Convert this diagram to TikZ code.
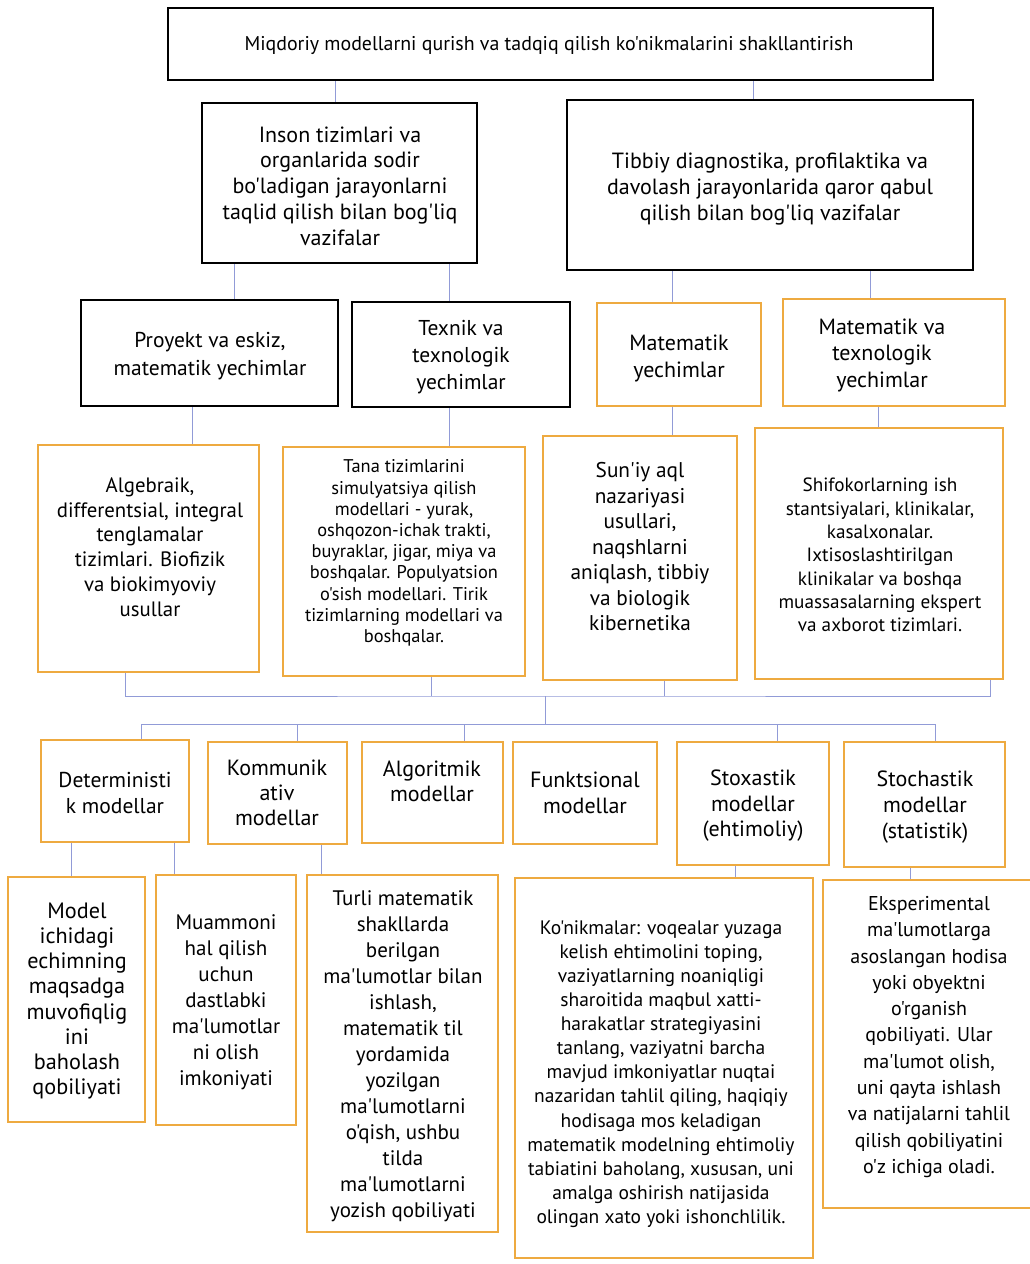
\documentclass[tikz,border=0pt]{standalone}
\usepackage{fontspec}
\setmainfont{PT Sans}
\newfontfamily\wid{PT Sans}
\definecolor{orng}{RGB}{238,170,64}
\definecolor{conn}{RGB}{145,155,215}
\newcommand\bx[6]{\node[#6, minimum width={#4-#2}, minimum height={#5-#3}] (#1) at ({(#2+#4)/2},{(#3+#5)/2}) {};}
\newcommand\tx[5]{\node[txt, font={#4}] (#1-t) at (#2,#3) {#5};}
\begin{document}
\begin{tikzpicture}[x=1pt,y=-1pt,
  bbox/.style={draw=black, line width=2.8pt, inner sep=0pt},
  obox/.style={draw=orng, line width=2.3pt, inner sep=0pt},
  txt/.style={align=center, inner sep=0pt, text=black},
  link/.style={draw=conn, line width=1pt}]
\fill[white] (0,0) rectangle (1030,1264);
\useasboundingbox (0,0) rectangle (1030,1264);
% boxes
\bx{top}{168}{8}{933}{80}{bbox}
\bx{inson}{202}{103}{477}{263}{bbox}
\bx{tibb}{567}{100}{973}{270}{bbox}
\bx{proy}{81}{300}{338}{406}{bbox}
\bx{texn}{352}{302}{570}{407}{bbox}
\bx{mat}{597}{303}{761}{406}{obox}
\bx{mattex}{783}{299}{1005}{406}{obox}
\bx{alg}{38}{445}{259}{672}{obox}
\bx{tana}{283}{447}{525}{676}{obox}
\bx{suniy}{543}{436}{737}{680}{obox}
\bx{shif}{755}{428}{1003}{679}{obox}
\bx{det}{41}{740}{189}{842}{obox}
\bx{kom}{208}{742}{347}{844}{obox}
\bx{algm}{362}{742}{503}{843}{obox}
\bx{funk}{513}{742}{657}{844}{obox}
\bx{stox}{677}{742}{829}{865}{obox}
\bx{stoch}{844}{742}{1005}{867}{obox}
\bx{model}{8}{877}{145}{1122}{obox}
\bx{muam}{156}{875}{296}{1125}{obox}
\bx{turli}{307}{875}{498}{1232}{obox}
\bx{konik}{515}{878}{813}{1258}{obox}
\bx{eksp}{823}{880}{1045}{1208}{obox}
% texts
\tx{top}{549}{45}{\wid\fontsize{19.9}{22}\selectfont}{Miqdoriy modellarni qurish va tadqiq qilish ko'nikmalarini shakllantirish}
\tx{inson}{340}{186}{\wid\fontsize{22}{25.7}\selectfont}{Inson tizimlari va\\ organlarida sodir\\ bo'ladigan jarayonlarni\\ taqlid qilish bilan bog'liq\\ vazifalar}
\tx{tibb}{770}{189}{\wid\fontsize{22}{26}\selectfont}{Tibbiy diagnostika, profilaktika va\\ davolash jarayonlarida qaror qabul\\ qilish bilan bog'liq vazifalar}
\tx{proy}{210}{356}{\wid\fontsize{21.5}{28}\selectfont}{Proyekt va eskiz,\\ matematik yechimlar}
\tx{texn}{461}{357}{\wid\fontsize{21.5}{27}\selectfont}{Texnik va\\ texnologik\\ yechimlar}
\tx{mat}{679}{358}{\wid\fontsize{22}{27}\selectfont}{Matematik\\ yechimlar}
\tx{mattex}{882}{355}{\wid\fontsize{22}{26.5}\selectfont}{Matematik va\\ texnologik\\ yechimlar}
\tx{alg}{150}{547}{\wid\fontsize{20.8}{24.8}\selectfont}{Algebraik,\\ differentsial, integral\\ tenglamalar\\ tizimlari.  Biofizik\\ va biokimyoviy\\ usullar}
\tx{tana}{404}{553}{\wid\fontsize{18.4}{21.2}\selectfont}{Tana tizimlarini\\ simulyatsiya qilish\\ modellari - yurak,\\ oshqozon-ichak trakti,\\ buyraklar, jigar, miya va\\ boshqalar. Populyatsion\\ o'sish modellari. Tirik\\ tizimlarning  modellari va\\ boshqalar.}
\tx{suniy}{640}{547}{\wid\fontsize{21.3}{25.5}\selectfont}{Sun'iy aql\\ nazariyasi\\ usullari,\\ naqshlarni\\ aniqlash, tibbiy\\ va biologik\\ kibernetika}
\tx{shif}{880}{555}{\wid\fontsize{19.2}{23.3}\selectfont}{Shifokorlarning ish\\ stantsiyalari, klinikalar,\\ kasalxonalar.\\ Ixtisoslashtirilgan\\ klinikalar va boshqa\\ muassasalarning ekspert\\ va axborot tizimlari.}
\tx{det}{115}{793}{\wid\fontsize{21.5}{25.5}\selectfont}{Deterministi\\ k modellar}
\tx{kom}{277}{793}{\wid\fontsize{22}{25}\selectfont}{Kommunik\\ ativ\\ modellar}
\tx{algm}{432}{781}{\wid\fontsize{22}{25}\selectfont}{Algoritmik\\ modellar}
\tx{funk}{585}{793}{\wid\fontsize{22}{26}\selectfont}{Funktsional\\ modellar}
\tx{stox}{753}{806}{\wid\fontsize{22}{25.5}\selectfont}{Stoxastik\\ modellar\\ (ehtimoliy)}
\tx{stoch}{925}{807}{\wid\fontsize{22}{26}\selectfont}{Stochastik\\ modellar\\ (statistik)}
\tx{model}{77}{1001}{\wid\fontsize{22.2}{25.2}\selectfont}{Model\\ ichidagi\\ echimning\\ maqsadga\\ muvofiqlig\\ ini\\ baholash\\ qobiliyati}
\tx{muam}{226}{1002}{\wid\fontsize{21}{26}\selectfont}{Muammoni\\ hal qilish\\ uchun\\ dastlabki\\ ma'lumotlar\\ ni  olish\\ imkoniyati}
\tx{turli}{403}{1056}{\wid\fontsize{21}{26}\selectfont}{Turli matematik\\ shakllarda\\ berilgan\\ ma'lumotlar bilan\\ ishlash,\\ matematik til\\ yordamida\\ yozilgan\\ ma'lumotlarni\\ o'qish, ushbu\\ tilda\\ ma'lumotlarni\\ yozish  qobiliyati}
\tx{konik}{661}{1074}{\wid\fontsize{19.5}{24.1}\selectfont}{Ko'nikmalar: voqealar yuzaga\\ kelish ehtimolini toping,\\ vaziyatlarning noaniqligi\\ sharoitida maqbul xatti-\\ harakatlar strategiyasini\\ tanlang, vaziyatni barcha\\ mavjud imkoniyatlar nuqtai\\ nazaridan tahlil qiling, haqiqiy\\ hodisaga mos keladigan\\ matematik modelning ehtimoliy\\ tabiatini baholang, xususan, uni\\ amalga oshirish natijasida\\ olingan xato yoki ishonchlilik.}
\tx{eksp}{929}{1037}{\wid\fontsize{20}{26.3}\selectfont}{Eksperimental\\ ma'lumotlarga\\ asoslangan hodisa\\ yoki  obyektni\\ o'rganish\\ qobiliyati. Ular\\ ma'lumot olish,\\ uni  qayta ishlash\\ va natijalarni tahlil\\ qilish qobiliyatini\\ o'z ichiga  oladi.}
% bus coordinates
\coordinate (bus1) at (545,696);
\coordinate (bus2) at (545,724);
% connectors
\draw[link] (top.south -| 335,0) -- (inson.north -| 335,0);
\draw[link] (top.south -| 753,0) -- (tibb.north -| 753,0);
\draw[link] (inson.south -| 234,0) -- (proy.north -| 234,0);
\draw[link] (inson.south -| 449,0) -- (texn.north -| 449,0);
\draw[link] (tibb.south -| 672,0) -- (mat.north -| 672,0);
\draw[link] (tibb.south -| 870,0) -- (mattex.north -| 870,0);
\draw[link] (proy.south -| 192,0) -- (alg.north -| 192,0);
\draw[link] (texn.south -| 449,0) -- (tana.north -| 449,0);
\draw[link] (mat.south -| 672,0) -- (suniy.north -| 672,0);
\draw[link] (mattex.south -| 878,0) -- (shif.north -| 878,0);
\draw[link] (alg.south -| 125,0) |- (bus1) -| (shif.south -| 990,0);
\draw[link] (tana.south -| 431,0) -- (bus1 -| 431,0);
\draw[link] (suniy.south -| 664,0) -- (bus1 -| 664,0);
\draw[link] (bus1) -- (bus2);
\draw[link] (det.north -| 141,0) |- (bus2) -| (stoch.north -| 935,0);
\draw[link] (kom.north -| 297,0) -- (bus2 -| 297,0);
\draw[link] (algm.north -| 464,0) -- (bus2 -| 464,0);
\draw[link] (stox.north -| 777,0) -- (bus2 -| 777,0);
\draw[link] (det.south -| 71,0) -- (model.north -| 71,0);
\draw[link] (det.south -| 174,0) -- (muam.north -| 174,0);
\draw[link] (kom.south -| 321,0) -- (turli.north -| 321,0);
\draw[link] (stox.south -| 735,0) -- (konik.north -| 735,0);
\draw[link] (stoch.south -| 910,0) -- (eksp.north -| 910,0);
\end{tikzpicture}
\end{document}
